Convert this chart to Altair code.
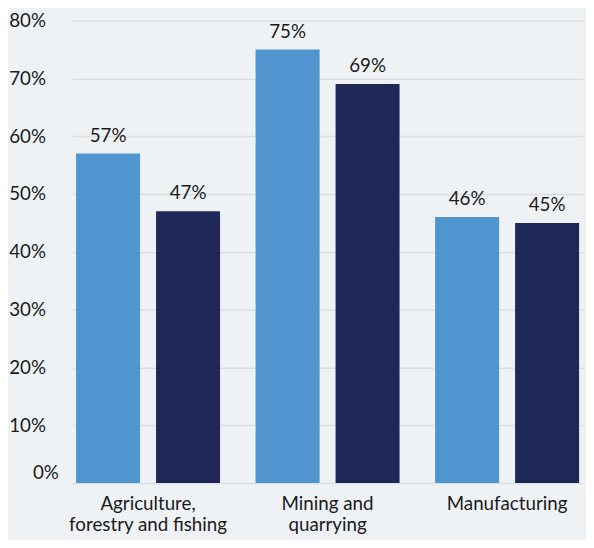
import altair as alt
import pandas as pd

categories = ["Agriculture,|forestry and fishing", "Mining and|quarrying", "Manufacturing"]
series = ["Series 1", "Series 2"]
values_s1 = [57, 75, 46]
values_s2 = [47, 69, 45]
colors = ["#5094d0", "#1f2859"]

rows = []
for c, a, b in zip(categories, values_s1, values_s2):
    rows.append({"category": c, "series": series[0], "value": a})
    rows.append({"category": c, "series": series[1], "value": b})
df = pd.DataFrame(rows)

FONT = "Lato"

base = alt.Chart(df).encode(
    x=alt.X(
        "category:N",
        sort=categories,
        scale=alt.Scale(paddingInner=0.198, paddingOuter=0.022),
        axis=alt.Axis(
            title=None, labelAngle=0, labelExpr="split(datum.label, '|')",
            labelFont=FONT, labelFontSize=19, labelColor="#1a1a1a",
            labelPadding=12, labelLineHeight=21, ticks=False, domain=False,
            labelBaseline="top", grid=False,
        ),
    ),
    xOffset=alt.XOffset("series:N", sort=series,
                        scale=alt.Scale(paddingInner=0.2, paddingOuter=0)),
    y=alt.Y(
        "value:Q",
        scale=alt.Scale(domain=[0, 80]),
        axis=alt.Axis(
            title=None, values=list(range(0, 81, 10)),
            labelExpr="datum.value + '%'",
            labelFont=FONT, labelFontSize=19, labelColor="#1a1a1a",
            labelPadding={"condition": {"test": "datum.value == 0", "value": 14}, "value": 27},
            labelOffset={"condition": {"test": "datum.value == 0", "value": -11}, "value": 0},
            ticks=False, domain=False,
            gridColor="#dcdfe2", gridWidth=1.5,
        ),
    ),
)

bars = base.mark_bar().encode(
    color=alt.Color("series:N", sort=series,
                    scale=alt.Scale(domain=series, range=colors), legend=None)
)

labels = base.transform_calculate(lbl="datum.value + '%'").mark_text(
    dy=-12, baseline="alphabetic", font=FONT, fontSize=19, color="#1a1a1a"
).encode(text="lbl:N")

chart = (bars + labels).properties(
    width=518, height=469,
    padding={"left": 65, "top": 9, "right": 3, "bottom": 54},
    autosize=alt.AutoSizeParams(type="none"),
    background="#eef2f4",
).configure_view(stroke=None)

chart.save("out.html", embed_options={"renderer": "svg", "actions": False})
